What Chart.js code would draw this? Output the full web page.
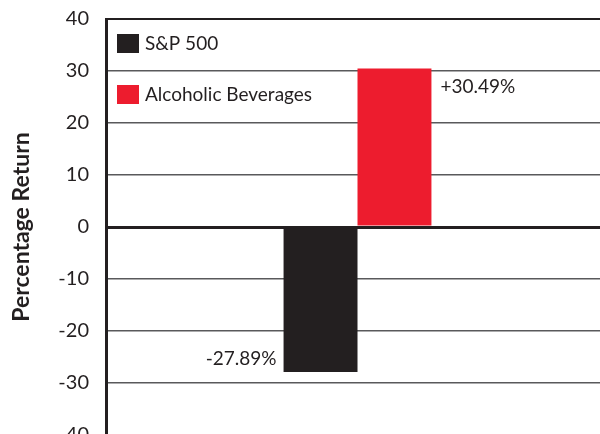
<!DOCTYPE html>
<html>
<head>
<meta charset="utf-8">
<script src="https://cdn.jsdelivr.net/npm/chart.js@4/dist/chart.umd.min.js"></script>
<style>
  html, body { margin: 0; padding: 0; background: #fff; overflow: hidden; width: 600px; height: 434px; }
  #wrap { position: absolute; left: 0; top: 0; width: 610px; height: 452px; }
</style>
</head>
<body>
<div id="wrap"><canvas id="c" width="610" height="452"></canvas></div>
<script>
const categories = ["Return"];
const seriesNames = ["S&P 500", "Alcoholic Beverages"];
const sp500Values = [-27.89];
const alcoholicValues = [30.49];
const yTicks = [40, 30, 20, 10, 0, -10, -20, -30, -40];
const yTitle = "Percentage Return";

const DARK = '#231f20';
const RED = '#ed1c2e';
const FONT = 'Lato, "Open Sans", sans-serif';

const valueLabels = {
  id: 'valueLabels',
  afterDatasetsDraw(chart) {
    const ctx = chart.ctx;
    ctx.save();
    ctx.font = '19px ' + FONT;
    ctx.fillStyle = DARK;
    ctx.textBaseline = 'middle';
    chart.data.datasets.forEach((ds, di) => {
      const meta = chart.getDatasetMeta(di);
      meta.data.forEach((el, i) => {
        const v = ds.data[i];
        const txt = (v > 0 ? '+' : '') + v.toFixed(2) + '%';
        if (v < 0) {
          ctx.textAlign = 'right';
          ctx.fillText(txt, el.x - el.width / 2 - 7, el.y - 13);
        } else {
          ctx.textAlign = 'left';
          ctx.fillText(txt, el.x + el.width / 2 + 9, el.y + 18);
        }
      });
    });
    ctx.restore();
  }
};

const insideLegend = {
  id: 'insideLegend',
  afterDraw(chart) {
    const ctx = chart.ctx;
    const a = chart.chartArea;
    ctx.save();
    ctx.font = '19px ' + FONT;
    ctx.textBaseline = 'middle';
    ctx.textAlign = 'left';
    chart.data.datasets.forEach((ds, i) => {
      const y = a.top + 25 + i * 51;
      ctx.fillStyle = ds.backgroundColor;
      ctx.fillRect(a.left + 11, y - 10, 22, 19);
      ctx.fillStyle = DARK;
      ctx.fillText(ds.label, a.left + 39, y);
    });
    ctx.restore();
  }
};

new Chart(document.getElementById('c'), {
  type: 'bar',
  data: {
    labels: categories,
    datasets: [
      { label: seriesNames[0], data: sp500Values, backgroundColor: DARK, borderWidth: 0,
        barPercentage: 1, categoryPercentage: 0.294 },
      { label: seriesNames[1], data: alcoholicValues, backgroundColor: RED, borderWidth: 0,
        barPercentage: 1, categoryPercentage: 0.294 }
    ]
  },
  options: {
    responsive: false,
    animation: false,
    devicePixelRatio: 1,
    layout: { padding: { top: 19, right: 1, bottom: 17, left: 0 } },
    plugins: {
      legend: { display: false },
      tooltip: { enabled: false },
      title: { display: false }
    },
    scales: {
      x: { display: false, offset: true },
      y: {
        min: -40, max: 40,
        afterBuildTicks(scale) { scale.ticks = yTicks.map(v => ({ value: v })); },
        afterFit(scale) { scale.width = 106; },
        ticks: {
          color: DARK,
          font: { family: FONT, size: 20, lineHeight: 1 },
          padding: 0,
          callback: v => String(v)
        },
        grid: {
          drawTicks: true,
          tickLength: 17,
          tickColor: 'rgba(0,0,0,0)',
          color: ctx => (ctx.tick && (ctx.tick.value === 0 || ctx.tick.value === 40)) ? DARK : '#59595b',
          lineWidth: ctx => (ctx.tick && ctx.tick.value === 0) ? 3 : (ctx.tick && ctx.tick.value === 40 ? 2 : 1.5)
        },
        border: { display: true, color: DARK, width: 3 },
        title: {
          display: true,
          text: yTitle,
          color: DARK,
          font: { family: FONT, size: 23, weight: 'bold' },
          padding: { top: 8, bottom: 0 }
        }
      }
    }
  },
  plugins: [valueLabels, insideLegend]
});
</script>
</body>
</html>
